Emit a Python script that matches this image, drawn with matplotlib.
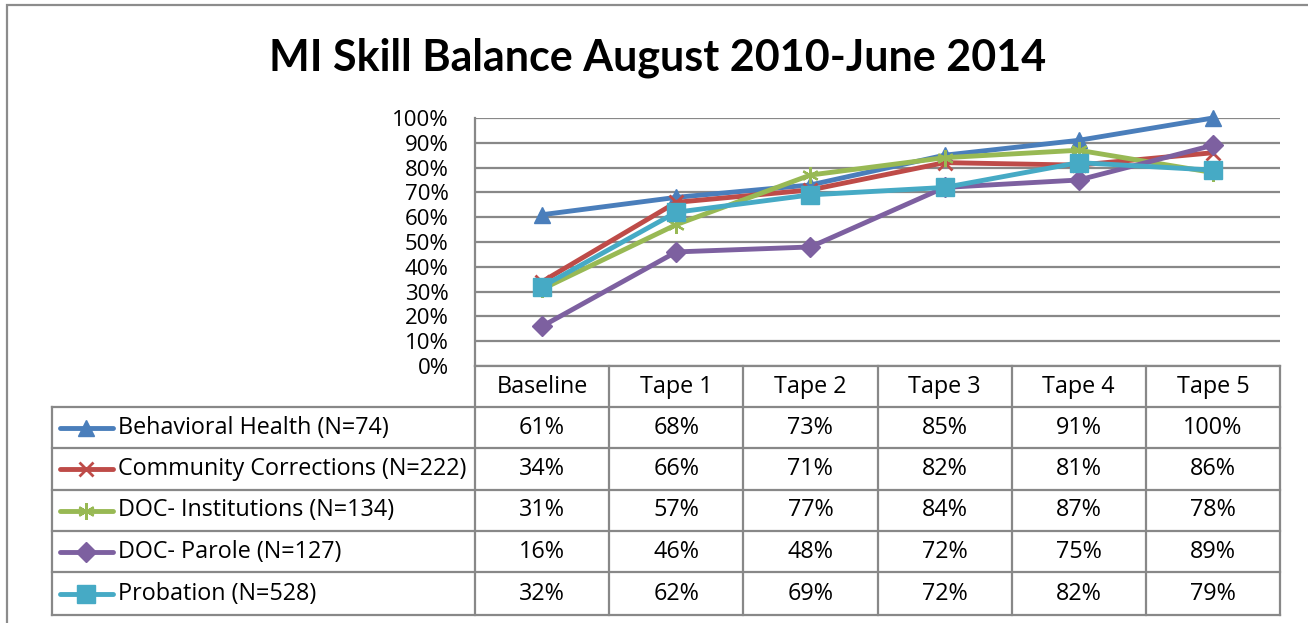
import matplotlib.pyplot as plt
from matplotlib.lines import Line2D
from matplotlib.patches import Rectangle

categories = ['Baseline', 'Tape 1', 'Tape 2', 'Tape 3', 'Tape 4', 'Tape 5']
series_names = ['Behavioral Health (N=74)', 'Community Corrections (N=222)',
                'DOC- Institutions (N=134)', 'DOC- Parole (N=127)', 'Probation (N=528)']
behavioral = [61, 68, 73, 85, 91, 100]
community = [34, 66, 71, 82, 81, 86]
institutions = [31, 57, 77, 84, 87, 78]
parole = [16, 46, 48, 72, 75, 89]
probation = [32, 62, 69, 72, 82, 79]
yticks = [0, 10, 20, 30, 40, 50, 60, 70, 80, 90, 100]

values = [behavioral, community, institutions, parole, probation]
colors = ['#4a7ebb', '#be4b48', '#98b954', '#7d60a0', '#46aac5']
markers = ['^', 'x', (6, 2, 0), 'D', 's']
msizes = [11, 10, 12, 10, 13]
mew = [1, 2, 1.6, 1, 1]

W, H = 1308, 623
FONT = 'Open Sans'
FS = 16
TFS = 16.8
GRID = '#888888'
LW = 3.5

fig = plt.figure(figsize=(W / 100, H / 100), dpi=100)


def px_axes(x0, y0, x1, y1):
    return fig.add_axes([x0 / W, 1 - y1 / H, (x1 - x0) / W, (y1 - y0) / H])


# outer chart frame
fig.patches.append(Rectangle((7 / W, -0.1), 1.2, 1 - 5 / H + 0.1, transform=fig.transFigure,
                             fill=False, edgecolor='#8c8c8c', lw=1.6))

fig.text(658 / W, 1 - 58 / H, 'MI Skill Balance August 2010-June 2014', ha='center', va='center',
         fontsize=31, fontweight='bold', family='Lato')

ax = px_axes(475, 118, 1280, 366)
ax.set_xlim(-0.5, 5.5)
ax.set_ylim(0, 100)
for s in ['top', 'right', 'bottom']:
    ax.spines[s].set_visible(False)
ax.spines['left'].set_color(GRID)
ax.spines['left'].set_linewidth(1.6)
ax.set_yticks(yticks)
ax.set_yticklabels([f'{t}%' for t in yticks], fontsize=FS, family=FONT)
ax.tick_params(axis='y', length=0, pad=19)
ax.set_xticks([])
ax.yaxis.grid(True, color=GRID, lw=1.6)
ax.set_axisbelow(True)

for v, c, m, ms, mw in zip(values, colors, markers, msizes, mew):
    ax.plot(range(len(categories)), v, color=c, lw=LW, marker=m, ms=ms,
            markeredgewidth=mw, markeredgecolor=c, markerfacecolor=c, clip_on=False, zorder=3)

# data table
tab = px_axes(52, 366, 1280, 615)
col_w = (1280 - 475) / 6
left = -0.5 - (475 - 52) / col_w
tab.set_xlim(left, 5.5)
row_bounds = [366, 407, 448, 490, 531, 572, 615]
tab.set_ylim(615, 366)
tab.axis('off')

lk = dict(color=GRID, lw=1.6, clip_on=False)
# header
tab.plot([-0.5, 5.5], [366, 366], **lk)
for i in range(7):
    tab.plot([i - 0.5, i - 0.5], [366, 615], **lk)
tab.plot([left, left], [407, 615], **lk)
for yb in row_bounds[1:]:
    tab.plot([left, 5.5], [yb, yb], **lk)
for i, cat in enumerate(categories):
    tab.text(i, (366 + 407) / 2, cat, ha='center', va='center', fontsize=TFS, family=FONT)

for r, (name, v, c, m, ms, mw) in enumerate(zip(series_names, values, colors, markers, msizes, mew)):
    yc = (row_bounds[r + 1] + row_bounds[r + 2]) / 2
    kx0 = left + (60 - 52) / col_w
    kx1 = left + (113 - 52) / col_w
    tab.add_line(Line2D([kx0, kx1], [yc, yc], color=c, lw=LW, solid_capstyle='round'))
    tab.plot([(kx0 + kx1) / 2], [yc], marker=m, ms=ms, color=c, markeredgewidth=mw)
    tab.text(left + (118 - 52) / col_w, yc, name, ha='left', va='center', fontsize=TFS, family=FONT)
    for i, val in enumerate(v):
        tab.text(i, yc, f'{val}%', ha='center', va='center', fontsize=TFS, family=FONT)

fig.savefig('out.png', dpi=100)
